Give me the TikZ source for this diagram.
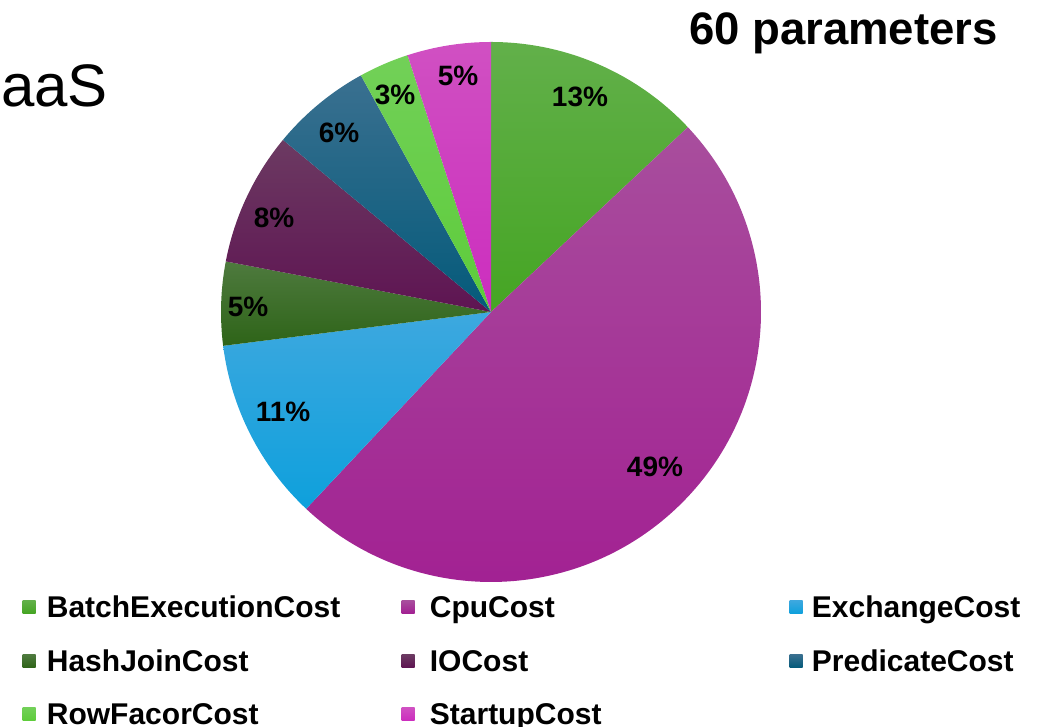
\documentclass[tikz,border=0pt]{standalone}
\usepackage{fontspec}
\setmainfont{Liberation Sans}
\usetikzlibrary{positioning}
\definecolor{bxtop}{HTML}{62B04A}
\definecolor{bx}{HTML}{45A523}
\definecolor{cputop}{HTML}{A84E9D}
\definecolor{cpu}{HTML}{A21F92}
\definecolor{exctop}{HTML}{3DA8DF}
\definecolor{exc}{HTML}{0EA0DC}
\definecolor{hjtop}{HTML}{4E7A3E}
\definecolor{hj}{HTML}{2E6418}
\definecolor{iotop}{HTML}{6C3A62}
\definecolor{io}{HTML}{5E1452}
\definecolor{predtop}{HTML}{3A7090}
\definecolor{pred}{HTML}{045A7A}
\definecolor{rowtop}{HTML}{72D058}
\definecolor{row}{HTML}{5DCC3A}
\definecolor{sttop}{HTML}{D050C2}
\definecolor{st}{HTML}{CC2DBE}

\begin{document}
\begin{tikzpicture}[x=1pt,y=1pt,
  pct/.style={font=\bfseries\fontsize{28}{30}\selectfont,inner sep=0pt},
  swatch/.style={minimum size=13pt,inner sep=0pt},
  key/.style={font=\bfseries\fontsize{30}{32}\selectfont,anchor=west,inner sep=0pt,
    text height=21.5pt,text depth=0pt}]
\useasboundingbox (0,0) rectangle (1046,727);
\clip (0,0) rectangle (1046,727);

\node[anchor=base east,font=\fontsize{60}{62}\selectfont,inner sep=0pt] (paas) at (108,620) {PaaS};
\node[anchor=base east,font=\bfseries\fontsize{45.5}{48}\selectfont,inner sep=0pt] (title) at (998,682) {60 parameters};

% pie, clockwise from the top
\coordinate (c) at (491,415);
\foreach \a/\b/\ct/\cb in {90/43.2/bxtop/bx, 43.2/-133.2/cputop/cpu,
    -133.2/-172.8/exctop/exc, -172.8/-190.8/hjtop/hj, -190.8/-219.6/iotop/io,
    -219.6/-241.2/predtop/pred, -241.2/-252/rowtop/row, -252/-270/sttop/st}
  \shade[top color=\ct,bottom color=\cb] (c) -- ++(\a:270) arc[start angle=\a,end angle=\b,radius=270] -- cycle;

\node[pct] (p1) at (580,630) {13\%};
\node[pct] (p2) at (655,260) {49\%};
\node[pct] (p3) at (283,315) {11\%};
\node[pct] (p4) at (248,420) {5\%};
\node[pct] (p5) at (274,509) {8\%};
\node[pct] (p6) at (339,594) {6\%};
\node[pct] (p7) at (395,632) {3\%};
\node[pct] (p8) at (458,651) {5\%};

% legend
\node[swatch,top color=bxtop,bottom color=bx] (s1) at (29,120) {};
\node[key,right=11pt of s1] (k1) {BatchExecutionCost};
\node[swatch,top color=cputop,bottom color=cpu] (s2) at (408,120) {};
\node[key,right=15pt of s2] (k2) {CpuCost};
\node[swatch,top color=exctop,bottom color=exc] (s3) at (796,120) {};
\node[key,right=9pt of s3] (k3) {ExchangeCost};

\node[swatch,top color=hjtop,bottom color=hj] (s4) at (29,66) {};
\node[key,right=11pt of s4] (k4) {HashJoinCost};
\node[swatch,top color=iotop,bottom color=io] (s5) at (408,66) {};
\node[key,right=15pt of s5] (k5) {IOCost};
\node[swatch,top color=predtop,bottom color=pred] (s6) at (796,66) {};
\node[key,right=9pt of s6] (k6) {PredicateCost};

\node[swatch,top color=rowtop,bottom color=row] (s7) at (29,13) {};
\node[key,right=11pt of s7] (k7) {RowFacorCost};
\node[swatch,top color=sttop,bottom color=st] (s8) at (408,13) {};
\node[key,right=15pt of s8] (k8) {StartupCost};
\end{tikzpicture}
\end{document}
